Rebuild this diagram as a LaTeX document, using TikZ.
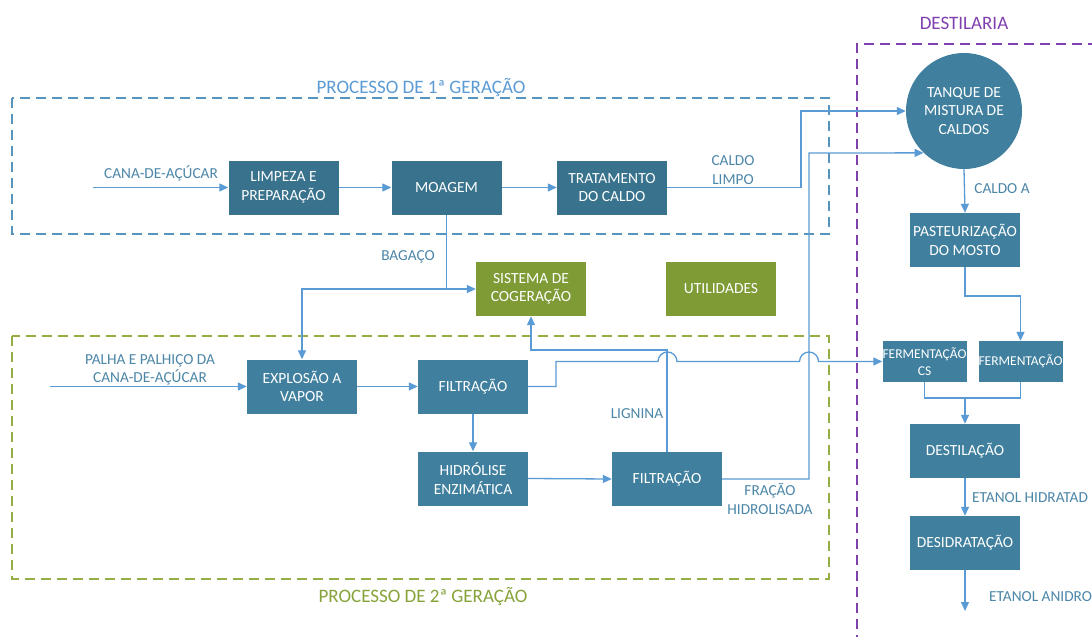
\documentclass[tikz,border=0pt]{standalone}
\usepackage{fontspec}
\setmainfont{Carlito}
\usetikzlibrary{arrows.meta}
\definecolor{boxdark}{HTML}{38728C}
\definecolor{boxteal}{HTML}{40809E}
\definecolor{boxgreen}{HTML}{7E9B36}
\definecolor{linkc}{HTML}{5B9BD5}
\definecolor{labc}{HTML}{4C86A8}
\definecolor{blued}{HTML}{5694BE}
\definecolor{greend}{HTML}{93AE45}
\definecolor{greent}{HTML}{86A33A}
\definecolor{purpd}{HTML}{8040B0}
\tikzset{
  procbox/.style={rectangle, fill=boxteal, text=white, inner sep=0pt, align=center,
    minimum width=110pt, minimum height=54pt, font=\fontsize{15.5}{18.5}\selectfont},
  topbox/.style={procbox, fill=boxdark},
  greenbox/.style={procbox, fill=boxgreen},
  smallbox/.style={procbox, minimum width=83pt, minimum height=41pt, font=\fontsize{13.5}{17}\selectfont},
  tankc/.style={circle, fill=boxteal, text=white, inner sep=0pt, align=center,
    minimum size=116pt, font=\fontsize{15.5}{18.5}\selectfont},
  arr/.style={draw=linkc, line width=1.3pt, -{Triangle[length=9pt,width=8pt]}},
  link/.style={draw=linkc, line width=1.3pt},
  lab/.style={text=labc, inner sep=0pt, align=center, font=\fontsize{15.3}{18.5}\selectfont},
  frame1/.style={draw=blued, line width=1.3pt, dash pattern=on 10pt off 6pt},
  frame2/.style={draw=greend, line width=1.3pt, dash pattern=on 10pt off 6pt},
  frame3/.style={draw=purpd, line width=1.3pt, dash pattern=on 10pt off 6pt},
  ttl/.style={inner sep=0pt, font=\fontsize{19}{22}\selectfont}
}
\begin{document}
\begin{tikzpicture}[x=1pt, y=-1pt]
\useasboundingbox[fill=white] (0,0) rectangle (1092,637);

% frames
\draw[frame1] (12,98) rectangle (829,234);
\draw[frame2] (12,336) rectangle (829,579);
\draw[frame3] (857,645) -- (857,44) -- (1100,44);
\node[ttl, text=linkc] (t1) at (421,88) {PROCESSO DE 1ª GERAÇÃO};
\node[ttl, text=greent] (t2) at (423,597) {PROCESSO DE 2ª GERAÇÃO};
\node[ttl, text=purpd] (t3) at (964,23) {DESTILARIA};

% nodes
\node[topbox] (limp) at (283.5,187.5) {LIMPEZA E\\PREPARAÇÃO};
\node[topbox] (moag) at (446.5,187.5) {MOAGEM};
\node[topbox] (trat) at (612,187.5) {TRATAMENTO\\DO CALDO};
\node[tankc] (tanq) at (964,111) {TANQUE DE\\MISTURA DE\\CALDOS};
\node[procbox] (past) at (965,240) {PASTEURIZAÇÃO\\DO MOSTO};
\node[greenbox] (cog) at (531,289) {SISTEMA DE\\COGERAÇÃO};
\node[greenbox] (util) at (721,288.5) {UTILIDADES};
\node[procbox] (expl) at (302,386.5) {EXPLOSÃO A\\VAPOR};
\node[procbox] (fa) at (473,386.5) {FILTRAÇÃO};
\node[procbox] (hid) at (473,478.5) {\MakeUppercase{hidrólise}\\ENZIMÁTICA};
\node[procbox] (fb) at (667,479) {FILTRAÇÃO};
\node[smallbox] (fcs) at (924.5,361.5) {FERMENTAÇÃO\\CS};
\node[smallbox] (ferm) at (1020.5,361.5) {FERMENTAÇÃO};
\node[procbox] (dest) at (965,451) {DESTILAÇÃO};
\node[procbox] (desi) at (965,543) {DESIDRATAÇÃO};

% free ends
\coordinate (cin) at (93,187.5);
\coordinate (pin) at (50,386.5);
\coordinate (eout) at (965,611);
\coordinate (jn) at (965,398);

% connectors 1st gen
\draw[arr] (cin) -- (limp.west);
\draw[arr] (limp.east) -- (moag.west);
\draw[arr] (moag.east) -- (trat.west);
\draw[arr] (trat.east) -- (801,187.5) -- (801,111) -- (tanq.west);
\draw[arr] (moag.south) |- (cog.west);
\draw[arr] (moag.south |- cog.west) -| (expl.north);

% 2nd gen
\draw[arr] (pin) -- (expl.west);
\draw[arr] (expl.east) -- (fa.west);
\draw[arr] (fa.south) -- (hid.north);
\draw[arr] (hid.east) -- (fb.west);
\draw[arr] (fb.north) -- (667,350) -| (cog.south);
\draw[arr] (fb.east) -- (809,479) -- (809,153) -- (tanq.226);
\draw[arr] (fa.east) -- (556,386.5) -- (556,361.5) -- (658,361.5)
  arc[start angle=180, end angle=0, radius=9.5pt] -- (799.5,361.5)
  arc[start angle=180, end angle=0, radius=9.5pt] -- (fcs.west);

% destilaria
\draw[arr] (tanq.south) -- (past.north);
\draw[arr] (past.south) -- (965,296) -| (ferm.north);
\draw[link] (fcs.south) |- (jn);
\draw[link] (ferm.south) |- (jn);
\draw[arr] (jn) -- (dest.north);
\draw[arr] (dest.south) -- (desi.north);
\draw[arr] (desi.south) -- (eout);

% labels
\node[lab] (lcana) at (161,173) {CANA-DE-AÇÚCAR};
\node[lab] (lcaldo) at (733,170) {CALDO\\LIMPO};
\node[lab] (lbag) at (408,257) {BAGAÇO};
\node[lab] (lpal) at (150,370) {PALHA E PALHIÇO DA\\CANA-DE-AÇÚCAR};
\node[lab] (llig) at (637,414) {LIGNINA};
\node[lab] (lfra) at (770,499) {FRAÇÃO\\HIDROLISADA};
\node[lab] (lcaldoa) at (1002,189) {CALDO A};
\node[lab, anchor=west] (leth) at (972,498) {ETANOL HIDRATAD};
\node[lab, anchor=west] (lean) at (989,597) {ETANOL ANIDRO};
\end{tikzpicture}
\end{document}
